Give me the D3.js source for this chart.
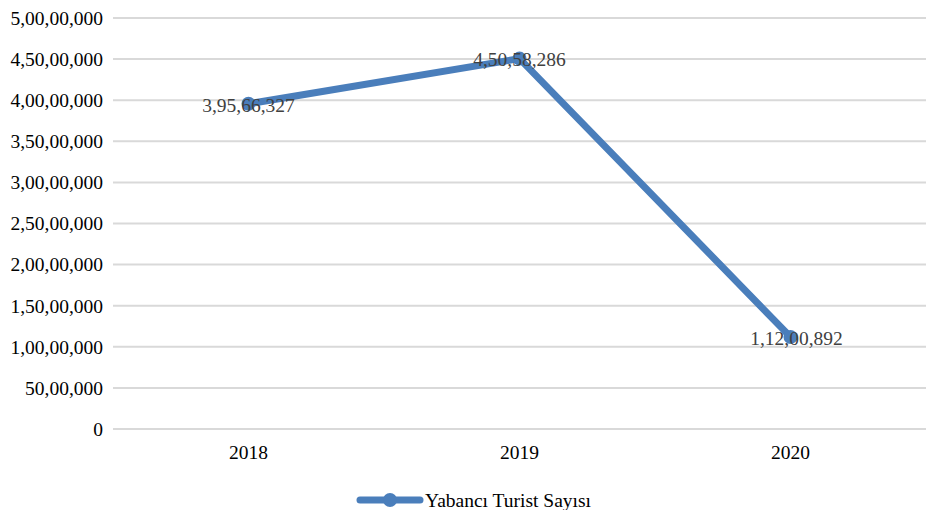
<!DOCTYPE html>
<html>
<head>
<meta charset="utf-8">
<script src="https://cdn.jsdelivr.net/npm/d3@7"></script>
<style>
  body { margin: 0; background: #fff; }
  svg text { font-family: "Liberation Serif", "Times New Roman", serif; }
</style>
</head>
<body>
<div id="chart"></div>
<script>
var years = ["2018", "2019", "2020"];
var touristCounts = [39566327, 45058286, 11200892];
var yTicks = [0, 5000000, 10000000, 15000000, 20000000, 25000000, 30000000, 35000000, 40000000, 45000000, 50000000];
var seriesName = "Yabancı Turist Sayısı";

var width = 926, height = 510;
var margin = {top: 18, right: 0, bottom: 81, left: 113};
var lineColor = "#4a7ebb";
var fontSize = 19.5;

// Indian style grouping: 5,00,00,000
function indianFormat(n) {
  var s = String(Math.round(n));
  if (s.length <= 3) return s;
  var last3 = s.slice(-3);
  var rest = s.slice(0, -3);
  var parts = [];
  while (rest.length > 2) {
    parts.unshift(rest.slice(-2));
    rest = rest.slice(0, -2);
  }
  if (rest.length) parts.unshift(rest);
  return parts.join(",") + "," + last3;
}

var svg = d3.select("#chart").append("svg")
  .attr("width", width)
  .attr("height", height);

var x = d3.scaleBand()
  .domain(years)
  .range([margin.left, width - margin.right]);

var y = d3.scaleLinear()
  .domain([0, 50000000])
  .range([height - margin.bottom, margin.top]);

// grid
svg.append("g")
  .selectAll("line")
  .data(yTicks)
  .enter().append("line")
  .attr("x1", margin.left)
  .attr("x2", width - margin.right)
  .attr("y1", function(d) { return y(d); })
  .attr("y2", function(d) { return y(d); })
  .attr("stroke", "#d9d9d9")
  .attr("stroke-width", 2);

// y labels
svg.append("g")
  .selectAll("text")
  .data(yTicks)
  .enter().append("text")
  .attr("x", 103)
  .attr("y", function(d) { return y(d); })
  .attr("dy", "0.35em")
  .attr("text-anchor", "end")
  .attr("font-size", fontSize)
  .attr("fill", "#000")
  .text(indianFormat);

// x labels
svg.append("g")
  .selectAll("text")
  .data(years)
  .enter().append("text")
  .attr("x", function(d) { return x(d) + x.bandwidth() / 2; })
  .attr("y", 459)
  .attr("text-anchor", "middle")
  .attr("font-size", fontSize)
  .attr("fill", "#000")
  .text(function(d) { return d; });

var pts = years.map(function(yr, i) { return {year: yr, value: touristCounts[i]}; });

var line = d3.line()
  .x(function(d) { return x(d.year) + x.bandwidth() / 2; })
  .y(function(d) { return y(d.value); });

svg.append("path")
  .datum(pts)
  .attr("fill", "none")
  .attr("stroke", lineColor)
  .attr("stroke-width", 7)
  .attr("stroke-linejoin", "round")
  .attr("d", line);

svg.append("g")
  .selectAll("circle")
  .data(pts)
  .enter().append("circle")
  .attr("cx", function(d) { return x(d.year) + x.bandwidth() / 2; })
  .attr("cy", function(d) { return y(d.value); })
  .attr("r", 7)
  .attr("fill", lineColor);

// data labels
svg.append("g")
  .selectAll("text")
  .data(pts)
  .enter().append("text")
  .attr("x", function(d, i) { return x(d.year) + x.bandwidth() / 2 + (i === 2 ? 6 : 0); })
  .attr("y", function(d) { return y(d.value); })
  .attr("dy", "0.4em")
  .attr("text-anchor", "middle")
  .attr("font-size", fontSize)
  .attr("fill", "#404040")
  .text(function(d) { return indianFormat(d.value); });

// legend
var lg = svg.append("g").attr("transform", "translate(360,500)");
lg.append("line")
  .attr("x1", 0).attr("x2", 60)
  .attr("y1", 0).attr("y2", 0)
  .attr("stroke", lineColor)
  .attr("stroke-width", 7)
  .attr("stroke-linecap", "round");
lg.append("circle")
  .attr("cx", 30).attr("cy", 0).attr("r", 7)
  .attr("fill", lineColor);
lg.append("text")
  .attr("x", 65).attr("y", 0)
  .attr("dy", "0.35em")
  .attr("font-size", fontSize)
  .attr("fill", "#000")
  .text(seriesName);
</script>
</body>
</html>
